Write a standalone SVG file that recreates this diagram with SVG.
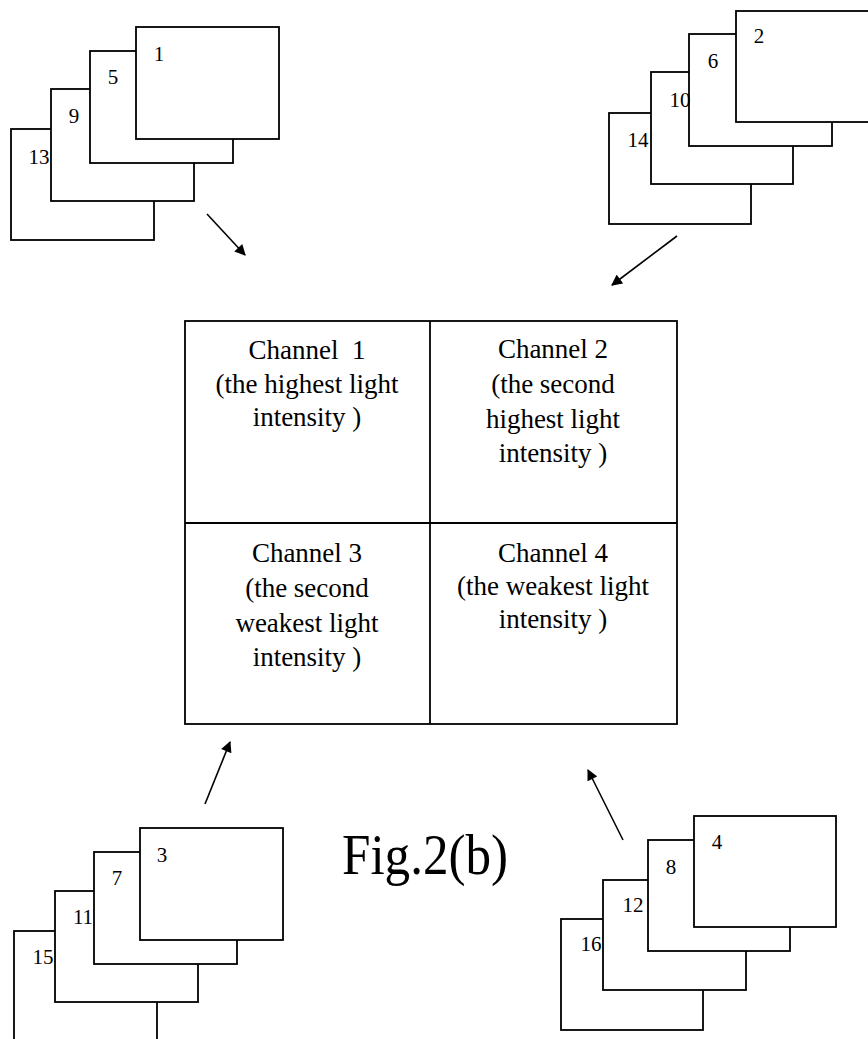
<svg xmlns="http://www.w3.org/2000/svg" width="868" height="1039" viewBox="0 0 868 1039">
<defs>
<style>
.pg{fill:#fff;stroke:#000;stroke-width:1.8}
.num{font-family:"Liberation Serif",serif;font-size:21px;fill:#000;text-anchor:middle}
.ch{font-family:"Liberation Serif",serif;font-size:27px;fill:#000;text-anchor:middle}
.grid{fill:none;stroke:#000;stroke-width:1.8}
.arr{stroke:#000;stroke-width:1.6;fill:none;marker-end:url(#ah)}
</style>
<marker id="ah" viewBox="0 0 10 10" refX="9" refY="5" markerWidth="12" markerHeight="11" markerUnits="userSpaceOnUse" orient="auto">
<path d="M0,0 L10,5 L0,10 z" fill="#000"/>
</marker>
</defs>
<rect width="868" height="1039" fill="#fff"/>

<g id="stack-top-left">
<rect class="pg" x="11" y="129" width="143" height="111"/>
<rect class="pg" x="51" y="89" width="143" height="112"/>
<rect class="pg" x="90" y="51" width="143" height="112"/>
<rect class="pg" x="136" y="27" width="143" height="112"/>
<text class="num" x="39" y="164">13</text>
<text class="num" x="74" y="123">9</text>
<text class="num" x="113" y="84">5</text>
<text class="num" x="159" y="61">1</text>
</g>

<g id="stack-top-right">
<rect class="pg" x="609" y="113" width="142" height="111"/>
<rect class="pg" x="651" y="72" width="142" height="112"/>
<rect class="pg" x="689" y="34" width="143" height="112"/>
<rect class="pg" x="736" y="11" width="150" height="111"/>
<text class="num" x="638" y="147">14</text>
<text class="num" x="680" y="107">10</text>
<text class="num" x="713" y="68">6</text>
<text class="num" x="759" y="43">2</text>
</g>

<g id="stack-bottom-left">
<rect class="pg" x="14" y="931" width="143" height="130"/>
<rect class="pg" x="55" y="891" width="143" height="111"/>
<rect class="pg" x="94" y="852" width="143" height="112"/>
<rect class="pg" x="140" y="828" width="143" height="112"/>
<text class="num" x="43" y="964">15</text>
<text class="num" x="83" y="924">11</text>
<text class="num" x="117" y="885">7</text>
<text class="num" x="162" y="862">3</text>
</g>

<g id="stack-bottom-right">
<rect class="pg" x="561" y="919" width="142" height="111"/>
<rect class="pg" x="603" y="880" width="143" height="110"/>
<rect class="pg" x="648" y="840" width="142" height="111"/>
<rect class="pg" x="694" y="816" width="142" height="111"/>
<text class="num" x="591" y="951">16</text>
<text class="num" x="633" y="912">12</text>
<text class="num" x="671" y="874">8</text>
<text class="num" x="717" y="849">4</text>
</g>

<g id="channel-grid">
<rect class="grid" x="185" y="321" width="492" height="403"/>
<line class="grid" x1="430" y1="321" x2="430" y2="724"/>
<line class="grid" x1="185" y1="523" x2="677" y2="523"/>
</g>

<g id="channel-1">
<text class="ch" x="307" y="359" xml:space="preserve">Channel  1</text>
<text class="ch" x="307" y="393">(the highest light</text>
<text class="ch" x="307" y="426">intensity )</text>
</g>
<g id="channel-2">
<text class="ch" x="553" y="358">Channel 2</text>
<text class="ch" x="553" y="393">(the second</text>
<text class="ch" x="553" y="428">highest light</text>
<text class="ch" x="553" y="462">intensity )</text>
</g>
<g id="channel-3">
<text class="ch" x="307" y="562">Channel 3</text>
<text class="ch" x="307" y="597">(the second</text>
<text class="ch" x="307" y="632">weakest light</text>
<text class="ch" x="307" y="666">intensity )</text>
</g>
<g id="channel-4">
<text class="ch" x="553" y="562">Channel 4</text>
<text class="ch" x="553" y="595">(the weakest light</text>
<text class="ch" x="553" y="628">intensity )</text>
</g>

<g id="connectors">
<line class="arr" x1="207" y1="214" x2="245" y2="255"/>
<line class="arr" x1="677" y1="236" x2="612" y2="285"/>
<line class="arr" x1="205" y1="804" x2="230" y2="742"/>
<line class="arr" x1="623" y1="840" x2="588" y2="770"/>
</g>

<text x="342" y="874" font-family="Liberation Serif, serif" font-size="56" textLength="166" lengthAdjust="spacingAndGlyphs">Fig.2(b)</text>
</svg>
